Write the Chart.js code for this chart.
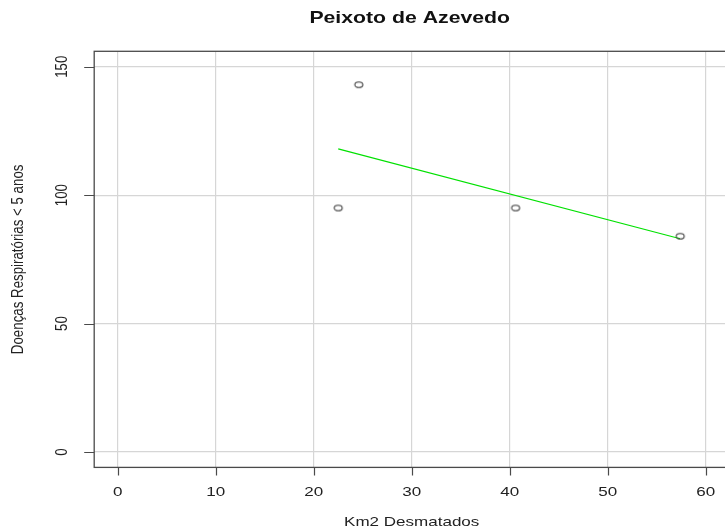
<!DOCTYPE html>
<html>
<head>
<meta charset="utf-8">
<script src="https://cdn.jsdelivr.net/npm/chart.js@4.4.1/dist/chart.umd.min.js"></script>
<style>
  html, body { margin: 0; padding: 0; background: #fff; overflow: hidden; }
  #wrap { width: 725px; height: 530px; overflow: hidden; }
  canvas { display: block; }
</style>
</head>
<body>
<div id="wrap"><canvas id="c" width="770" height="530"></canvas></div>
<script>
// Observations: deforested area (km²) vs. respiratory illness cases in children under 5
const kmDesmatados = [22.5, 24.6, 40.6, 57.4];
const doencas = [95, 143, 95, 84];

// Fitted trend line endpoints
const trendX = [22.5, 57.4];
const trendY = [118, 83];

// Axis tick values
const xTicks = [0, 10, 20, 30, 40, 50, 60];
const yTicks = [0, 50, 100, 150];

const titleText = 'Peixoto de Azevedo';
const xTitle = 'Km2 Desmatados';
const yTitle = 'Doenças Respiratórias < 5 anos';

// Horizontal stretch applied to text so glyphs look wide, as in the export
const SX = 1.28;

// Open elliptical marker
function makeMarker() {
  const m = document.createElement('canvas');
  m.width = 12; m.height = 9;
  const g = m.getContext('2d');
  g.strokeStyle = '#3a3a3a';
  g.lineWidth = 1.1;
  g.beginPath();
  g.ellipse(6, 4.5, 4, 2.8, 0, 0, Math.PI * 2);
  g.stroke();
  return m;
}

const frame = {
  id: 'frame',
  afterDraw(chart) {
    const ctx = chart.ctx;
    const a = chart.chartArea;
    const xs = chart.scales.x, ys = chart.scales.y;
    ctx.save();
    // plot box
    ctx.strokeStyle = '#4a4a4a';
    ctx.lineWidth = 1.3;
    ctx.strokeRect(a.left, a.top, a.right - a.left, a.bottom - a.top);
    // tick marks
    ctx.lineWidth = 1.2;
    ctx.beginPath();
    xTicks.forEach(v => {
      const px = Math.round(xs.getPixelForValue(v)) + 0.5;
      ctx.moveTo(px, a.bottom); ctx.lineTo(px, a.bottom + 8);
    });
    yTicks.forEach(v => {
      const py = Math.round(ys.getPixelForValue(v)) + 0.5;
      ctx.moveTo(a.left, py); ctx.lineTo(a.left - 10, py);
    });
    ctx.stroke();

    ctx.fillStyle = '#222';
    ctx.textAlign = 'center';
    ctx.textBaseline = 'middle';
    // x tick labels
    ctx.font = '13.3px "Liberation Sans", Arial, sans-serif';
    xTicks.forEach(v => {
      ctx.save();
      ctx.translate(xs.getPixelForValue(v), 492);
      ctx.scale(SX, 1);
      ctx.fillText(String(v), 0, 0);
      ctx.restore();
    });
    // y tick labels (parallel to the axis)
    yTicks.forEach(v => {
      ctx.save();
      ctx.translate(62, ys.getPixelForValue(v));
      ctx.rotate(-Math.PI / 2);
      ctx.scale(1, SX);
      ctx.fillText(String(v), 0, 0);
      ctx.restore();
    });
    // axis titles
    const cx = (a.left + a.right) / 2;
    const cy = (a.top + a.bottom) / 2;
    ctx.save();
    ctx.translate(cx, 522);
    ctx.scale(SX, 1);
    ctx.fillText(xTitle, 0, 0);
    ctx.restore();
    ctx.save();
    ctx.translate(18, cy);
    ctx.rotate(-Math.PI / 2);
    ctx.scale(1, SX);
    ctx.fillText(yTitle, 0, 0);
    ctx.restore();
    // main title
    ctx.font = 'bold 16.6px "Liberation Sans", Arial, sans-serif';
    ctx.fillStyle = '#111';
    ctx.save();
    ctx.translate(cx - 2, 18);
    ctx.scale(SX, 1);
    ctx.fillText(titleText, 0, 0);
    ctx.restore();
    ctx.restore();
  }
};

new Chart(document.getElementById('c'), {
  data: {
    datasets: [
      {
        type: 'line',
        data: trendX.map((x, i) => ({ x, y: trendY[i] })),
        borderColor: 'rgb(0, 225, 0)',
        borderWidth: 1.1,
        pointRadius: 0,
        fill: false,
        order: 2
      },
      {
        type: 'scatter',
        data: kmDesmatados.map((x, i) => ({ x, y: doencas[i] })),
        pointStyle: makeMarker(),
        pointRadius: 4,
        order: 1
      }
    ]
  },
  options: {
    responsive: false,
    animation: false,
    layout: { padding: { top: 51.3, right: 40.8, left: 0, bottom: 0 } },
    plugins: { legend: { display: false }, tooltip: { enabled: false }, title: { display: false } },
    scales: {
      x: {
        type: 'linear',
        min: -2.4, max: 62.4,
        afterBuildTicks: s => { s.ticks = xTicks.map(v => ({ value: v })); },
        afterFit: s => { s.height = 530 - 467.4; },
        ticks: { display: false },
        grid: { color: '#d6d6d6', lineWidth: 1.2, drawTicks: false },
        border: { display: false }
      },
      y: {
        type: 'linear',
        min: -6, max: 156,
        afterBuildTicks: s => { s.ticks = yTicks.map(v => ({ value: v })); },
        afterFit: s => { s.width = 94.2; },
        ticks: { display: false },
        grid: { color: '#d6d6d6', lineWidth: 1.2, drawTicks: false },
        border: { display: false }
      }
    }
  },
  plugins: [frame]
});
</script>
</body>
</html>
